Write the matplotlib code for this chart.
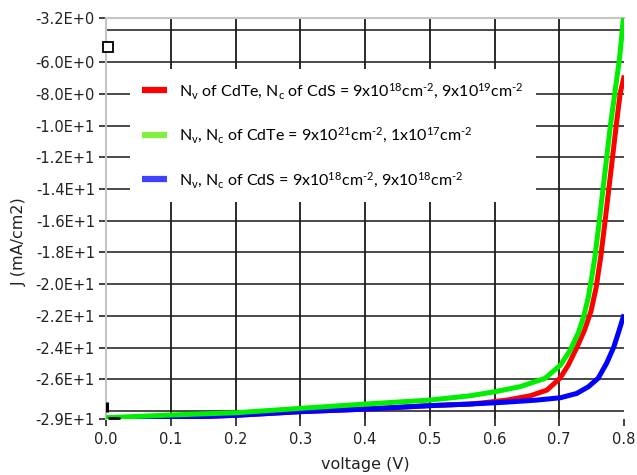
import matplotlib
matplotlib.use("Agg")
import matplotlib.pyplot as plt
from matplotlib.lines import Line2D

plt.rcParams['mathtext.fontset'] = 'custom'
plt.rcParams['mathtext.rm'] = 'Lato'
plt.rcParams['mathtext.it'] = 'Lato:italic'

# J-V curves (voltage in V, current density in mA/cm2)
v_red = [0.0, 0.1, 0.2, 0.3, 0.4, 0.5, 0.562, 0.583, 0.619, 0.655, 0.681, 0.701, 0.714,
         0.727, 0.739, 0.749, 0.757, 0.764, 0.770, 0.776, 0.782, 0.788, 0.794, 0.7995]
j_red = [-28.50, -28.41, -28.26, -28.03, -27.87, -27.65, -27.55, -27.47, -27.30, -27.03, -26.67, -25.93, -25.09,
         -24.00, -22.90, -21.70, -20.20, -18.30, -16.30, -14.20, -12.10, -10.00, -8.00, -7.00]

v_green = [0.0, 0.1, 0.2, 0.3, 0.4, 0.5, 0.562, 0.601, 0.639, 0.678, 0.702, 0.717, 0.730,
           0.738, 0.745, 0.750, 0.755, 0.761, 0.767, 0.773, 0.779, 0.786, 0.793, 0.799]
j_green = [-28.41, -28.24, -28.10, -27.82, -27.55, -27.30, -27.03, -26.77, -26.46, -25.93, -25.09, -24.15, -23.00,
           -22.00, -20.80, -19.60, -18.30, -16.30, -14.20, -12.10, -10.00, -7.90, -5.80, -3.30]

v_blue = [0.0, 0.1, 0.2, 0.3, 0.4, 0.5, 0.562, 0.614, 0.665, 0.702, 0.727, 0.745, 0.760,
          0.773, 0.784, 0.791, 0.799]
j_blue = [-28.50, -28.41, -28.26, -28.03, -27.87, -27.65, -27.55, -27.44, -27.30, -27.15, -26.88, -26.46, -25.93,
          -24.99, -23.98, -23.10, -22.05]

H = '\u2010'
labels = [
    r'N$_\mathregular{v}$ of CdTe, N$_\mathregular{c}$ of CdS = 9x10$^\mathregular{18}$cm$^\mathregular{' + H + r'2}$, 9x10$^\mathregular{19}$cm$^\mathregular{' + H + r'2}$',
    r'N$_\mathregular{v}$, N$_\mathregular{c}$ of CdTe = 9x10$^\mathregular{21}$cm$^\mathregular{' + H + r'2}$, 1x10$^\mathregular{17}$cm$^\mathregular{' + H + r'2}$',
    r'N$_\mathregular{v}$, N$_\mathregular{c}$ of CdS = 9x10$^\mathregular{18}$cm$^\mathregular{' + H + r'2}$, 9x10$^\mathregular{18}$cm$^\mathregular{' + H + r'2}$',
]

y_ticks = [-28.51, -26, -24, -22, -20, -18, -16, -14, -12, -10, -8, -6, -3.2]
y_ticklabels = ['-2.9E+1', '-2.6E+1', '-2.4E+1', '-2.2E+1', '-2.0E+1', '-1.8E+1', '-1.6E+1',
                '-1.4E+1', '-1.2E+1', '-1.0E+1', '-8.0E+0', '-6.0E+0', '-3.2E+0']
y_grid = [-28, -26, -24, -22, -20, -18, -16, -14, -12, -10, -8, -6, -4]
x_ticks = [0.0, 0.1, 0.2, 0.3, 0.4, 0.5, 0.6, 0.7, 0.8]
x_grid = [0.1, 0.2, 0.3, 0.4, 0.5, 0.6, 0.7]

fig = plt.figure(figsize=(6.37, 4.75), dpi=100)
ax = fig.add_axes([106 / 637, 1 - 419.3 / 475, 518 / 637, 401.7 / 475])
ax.set_xlim(0.0, 0.8)
ax.set_ylim(-28.51, -3.2)

for g in y_grid:
    ax.axhline(g, color='#2a2a2a', lw=1.2, zorder=1)
for g in x_grid:
    ax.axvline(g, color='#1a1a1a', lw=1.3, zorder=1)

lw = 3.6
ax.plot(v_red, j_red, color='#ff0000', lw=lw, zorder=3)
ax.plot(v_blue, j_blue, color='#0000ff', lw=lw, zorder=4)
ax.plot(v_green, j_green, color='#00ee00', lw=lw, zorder=5)

# cursor markers near the left axis
ax.plot([0.003], [-5.05], marker='s', ms=7, mfc='white', mec='black', mew=1.3,
        clip_on=False, zorder=6)
ax.plot([0.0015], [-27.75], marker='|', ms=7, color='black', mew=2.2, clip_on=False, zorder=6)
ax.plot([0.013], [-28.45], marker='_', ms=8, color='black', mew=2.0, clip_on=False, zorder=6)

for s in ['right', 'bottom']:
    ax.spines[s].set_visible(False)
for s in ['left', 'top']:
    ax.spines[s].set_color('#c4c4c4')
    ax.spines[s].set_linewidth(1.5)

ax.set_yticks(y_ticks)
ax.set_yticklabels(y_ticklabels)
ax.set_xticks(x_ticks)
ax.set_xticklabels(['%.1f' % t for t in x_ticks])
ax.tick_params(axis='both', direction='out', length=5, width=1.3, color='#333333',
               labelsize=10.5, labelcolor='#222222')
ax.tick_params(axis='y', pad=3)
ax.tick_params(axis='x', pad=4)

handles = [Line2D([], [], color=c, lw=4.5, solid_capstyle='butt')
           for c in ['#ff0000', '#80f040', '#4040ff']]
leg = ax.legend(handles, labels, loc='upper left', bbox_to_anchor=(0.046, 0.872),
                prop={'family': 'Lato', 'size': 11.5}, frameon=True, fancybox=False,
                facecolor='white', edgecolor='none', framealpha=1.0,
                handlelength=1.55, handletextpad=0.8, labelspacing=1.55,
                borderpad=0.75, borderaxespad=0.0)
leg.set_zorder(2)

fig.text(19 / 637, 1 - 242 / 475, 'J (mA/cm2)', rotation=90, ha='center', va='center',
         fontsize=11.5, color='#222222')
fig.text(365 / 637, 1 - 464 / 475, 'voltage (V)', ha='center', va='center',
         fontsize=11.5, color='#222222')

fig.savefig('out.png', dpi=100, facecolor='white')
